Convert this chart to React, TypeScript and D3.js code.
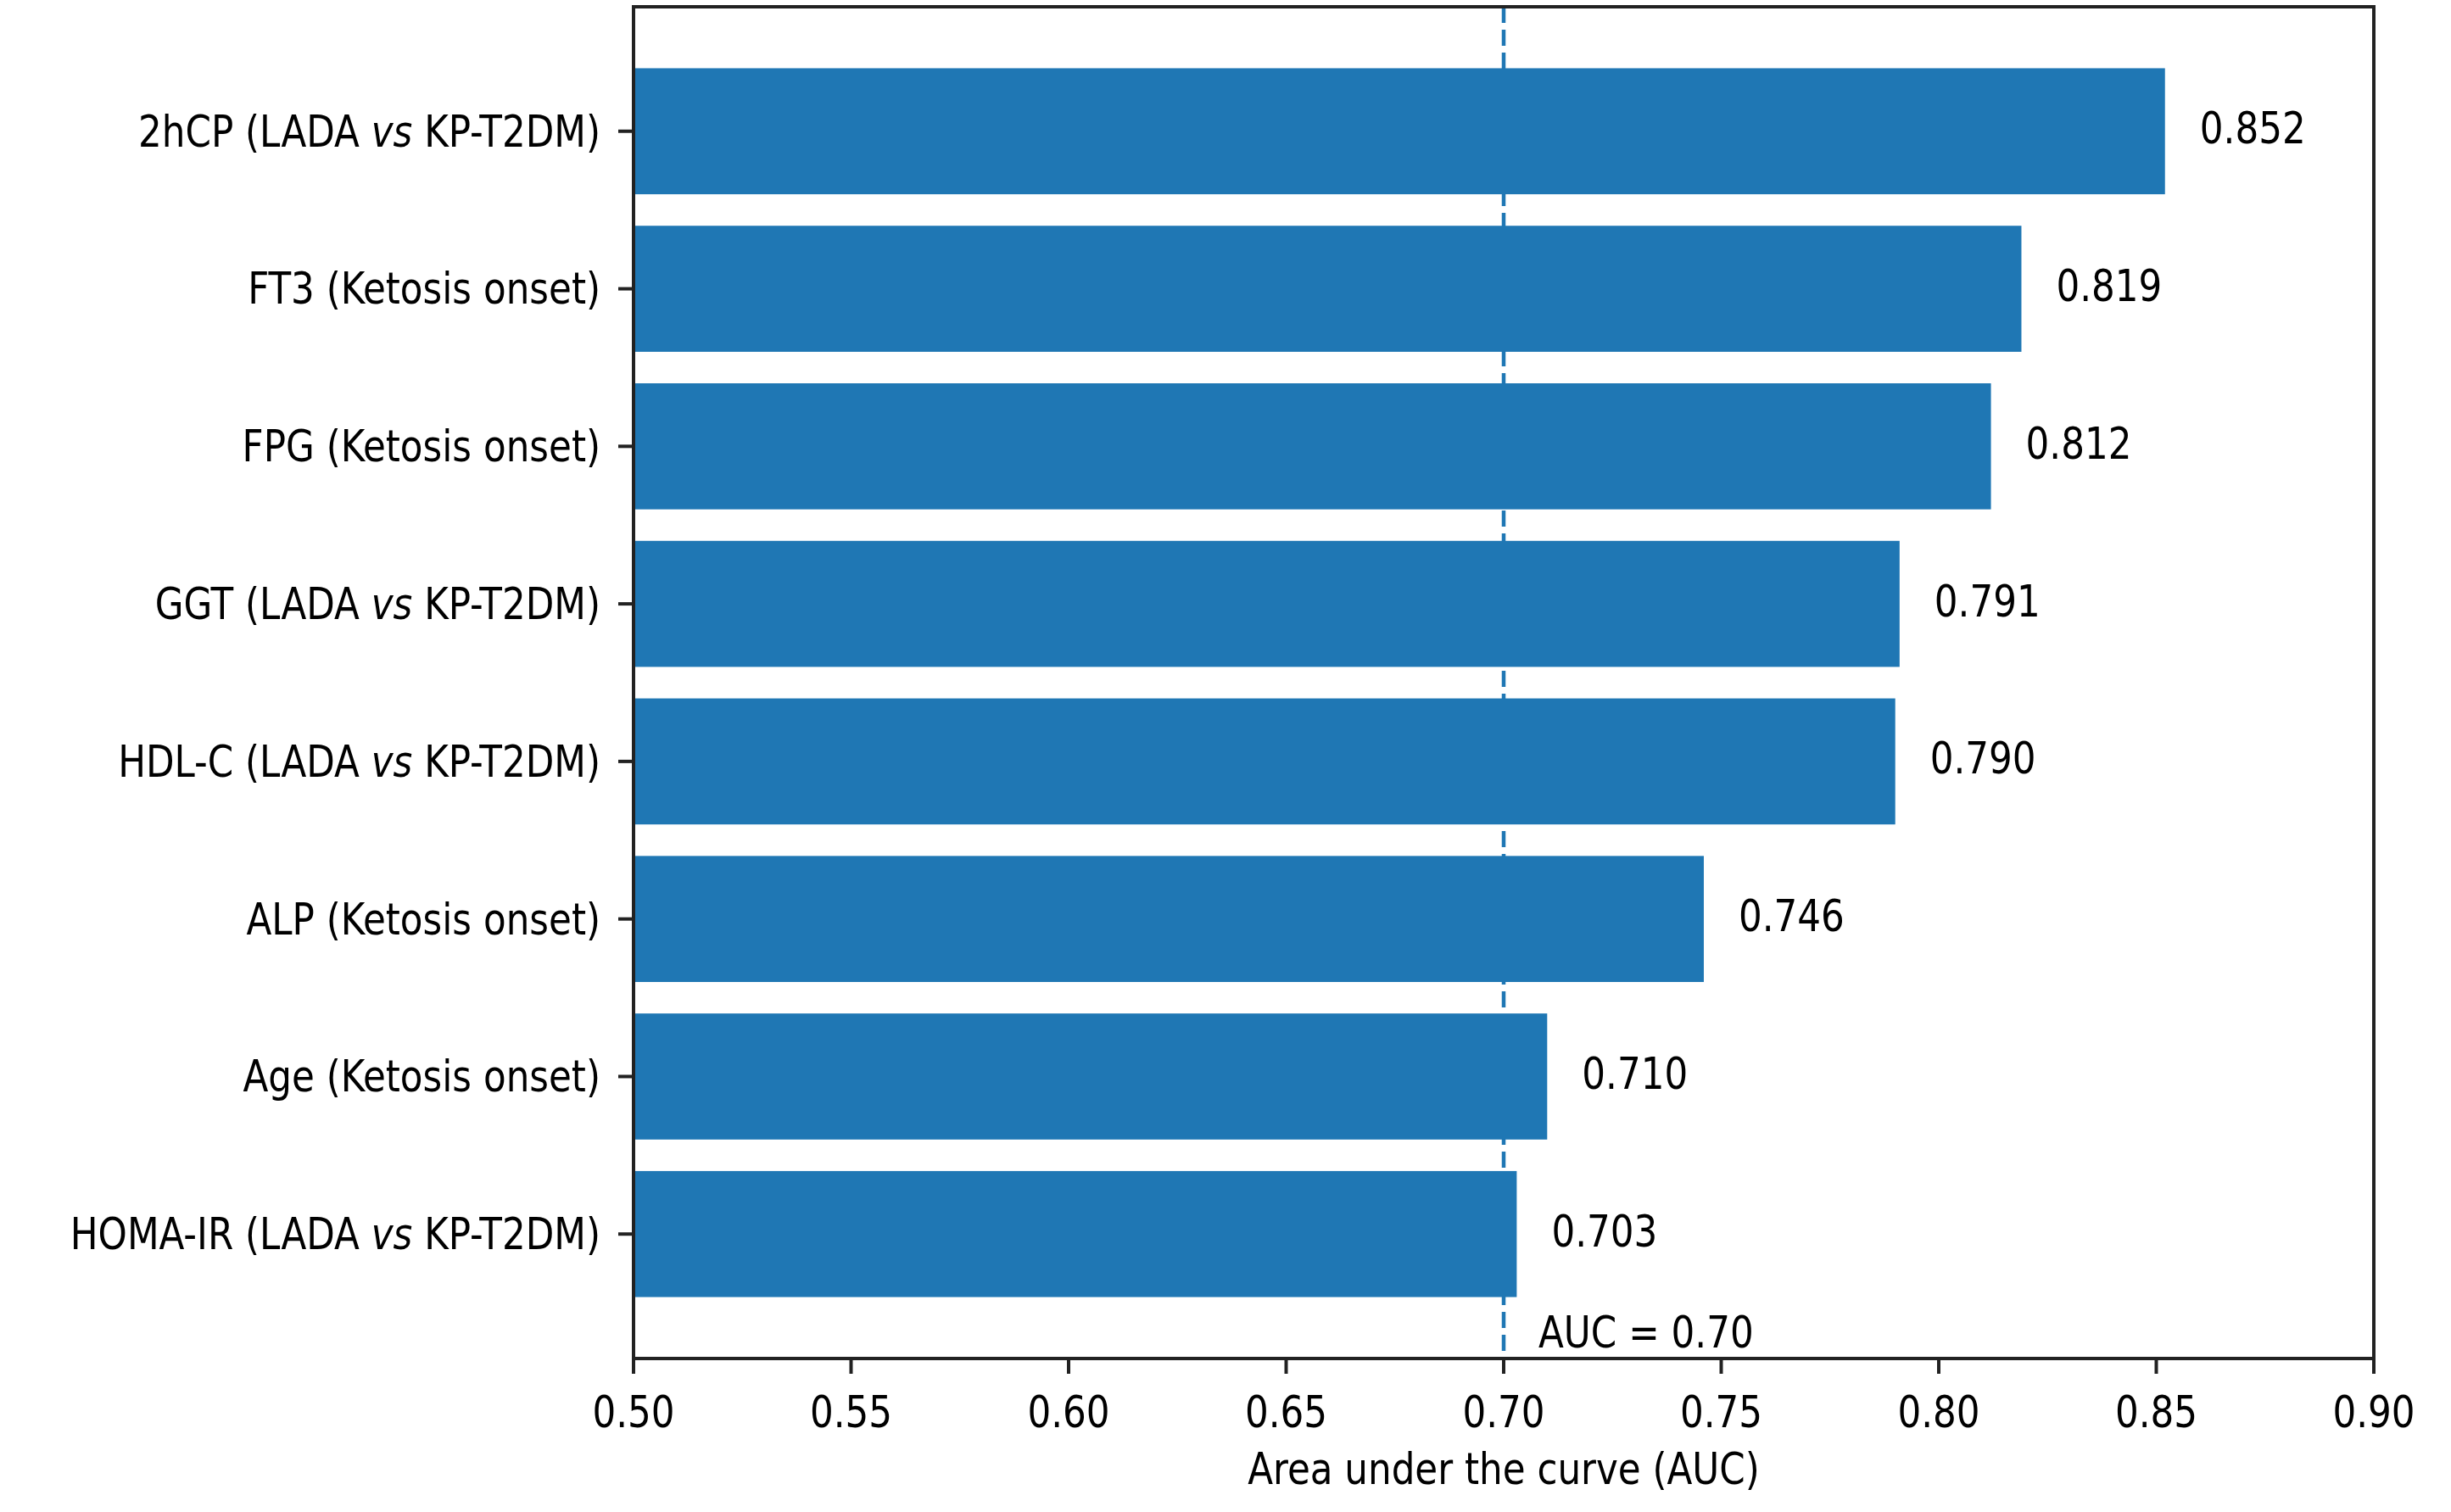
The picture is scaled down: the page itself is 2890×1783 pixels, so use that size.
import * as d3 from 'd3';

// AUC per marker, listed top to bottom as in the figure
const markers = ['2hCP', 'FT3', 'FPG', 'GGT', 'HDL-C', 'ALP', 'Age', 'HOMA-IR'];
const contexts = [
  'LADA vs KP-T2DM',
  'Ketosis onset',
  'Ketosis onset',
  'LADA vs KP-T2DM',
  'LADA vs KP-T2DM',
  'Ketosis onset',
  'Ketosis onset',
  'LADA vs KP-T2DM',
];
const aucValues = [0.852, 0.819, 0.812, 0.791, 0.79, 0.746, 0.71, 0.703];
const xTicks = [0.5, 0.55, 0.6, 0.65, 0.7, 0.75, 0.8, 0.85, 0.9];
const threshold = 0.7;
const thresholdLabel = 'AUC = 0.70';
const xTitle = 'Area under the curve (AUC)';

const W = 2890;
const H = 1783;
const margin = { top: 8, right: 91, bottom: 181, left: 747 };
const BLUE = '#1f77b4';
const INK = '#222222';
const FONT = "'DejaVu Sans Condensed', 'DejaVu Sans', sans-serif";
const FS = 48.5;
const STRETCH = 1.05;
const TICK = 18;

function Label({ x, y, anchor = 'start', children }: { x: number; y: number; anchor?: string; children: any }) {
  return (
    <text
      transform={`translate(${x},${y}) scale(1,${STRETCH})`}
      textAnchor={anchor}
      fontFamily={FONT}
      fontStretch="condensed"
      fontSize={FS}
      fill="#000"
    >
      {children}
    </text>
  );
}

function CategoryText({ marker, context }: { marker: string; context: string }) {
  // "vs" is set in italics
  const parts = context.split(' vs ');
  if (parts.length === 1) return <>{`${marker} (${context})`}</>;
  return (
    <>
      {`${marker} (${parts[0]} `}
      <tspan fontStyle="italic">vs</tspan>
      {` ${parts[1]})`}
    </>
  );
}

export default function App() {
  const innerW = W - margin.left - margin.right;
  const innerH = H - margin.top - margin.bottom;
  const n = aucValues.length;

  const x = d3.scaleLinear().domain([0.5, 0.9]).range([0, innerW]);
  // matplotlib-like barh positions: bottom bar at 0, 5% margins
  const y = d3.scaleLinear().domain([-0.79, n - 1 + 0.79]).range([innerH, 0]);
  const barH = 0.8;
  const pos = (i: number) => n - 1 - i;

  return (
    <svg
      width={W}
      height={H}
      viewBox={`0 0 ${W} ${H}`}
      style={{ position: 'absolute', left: 0, top: 0, background: '#fff' }}
    >
      <rect width={W} height={H} fill="#fff" />
      <g transform={`translate(${margin.left},${margin.top})`}>
        {/* threshold line under the bars */}
        <line
          x1={x(threshold)}
          x2={x(threshold)}
          y1={0}
          y2={innerH}
          stroke={BLUE}
          strokeWidth={4.5}
          strokeDasharray="19,8"
        />

        {aucValues.map((v, i) => (
          <rect
            key={markers[i]}
            x={x(0.5)}
            y={y(pos(i) + barH / 2)}
            width={x(v) - x(0.5)}
            height={y(pos(i) - barH / 2) - y(pos(i) + barH / 2)}
            fill={BLUE}
          />
        ))}

        {aucValues.map((v, i) => (
          <Label key={`v${i}`} x={x(v + 0.008)} y={y(pos(i)) + 0.3 * FS}>
            {v.toFixed(3)}
          </Label>
        ))}

        <Label x={x(threshold + 0.008)} y={y(-0.72)}>
          {thresholdLabel}
        </Label>

        {/* frame */}
        <rect x={0} y={0} width={innerW} height={innerH} fill="none" stroke={INK} strokeWidth={4} />

        {/* y ticks and labels */}
        {markers.map((m, i) => (
          <g key={`y${m}`}>
            <line x1={-TICK} x2={0} y1={y(pos(i))} y2={y(pos(i))} stroke={INK} strokeWidth={4} />
            <Label x={-TICK - 21} y={y(pos(i)) + 0.37 * FS} anchor="end">
              <CategoryText marker={m} context={contexts[i]} />
            </Label>
          </g>
        ))}

        {/* x ticks and labels */}
        {xTicks.map((t) => (
          <g key={`x${t}`}>
            <line x1={x(t)} x2={x(t)} y1={innerH} y2={innerH + TICK} stroke={INK} strokeWidth={4} />
            <Label x={x(t)} y={innerH + 81} anchor="middle">
              {t.toFixed(2)}
            </Label>
          </g>
        ))}

        <Label x={innerW / 2} y={innerH + 148} anchor="middle">
          {xTitle}
        </Label>
      </g>
    </svg>
  );
}
